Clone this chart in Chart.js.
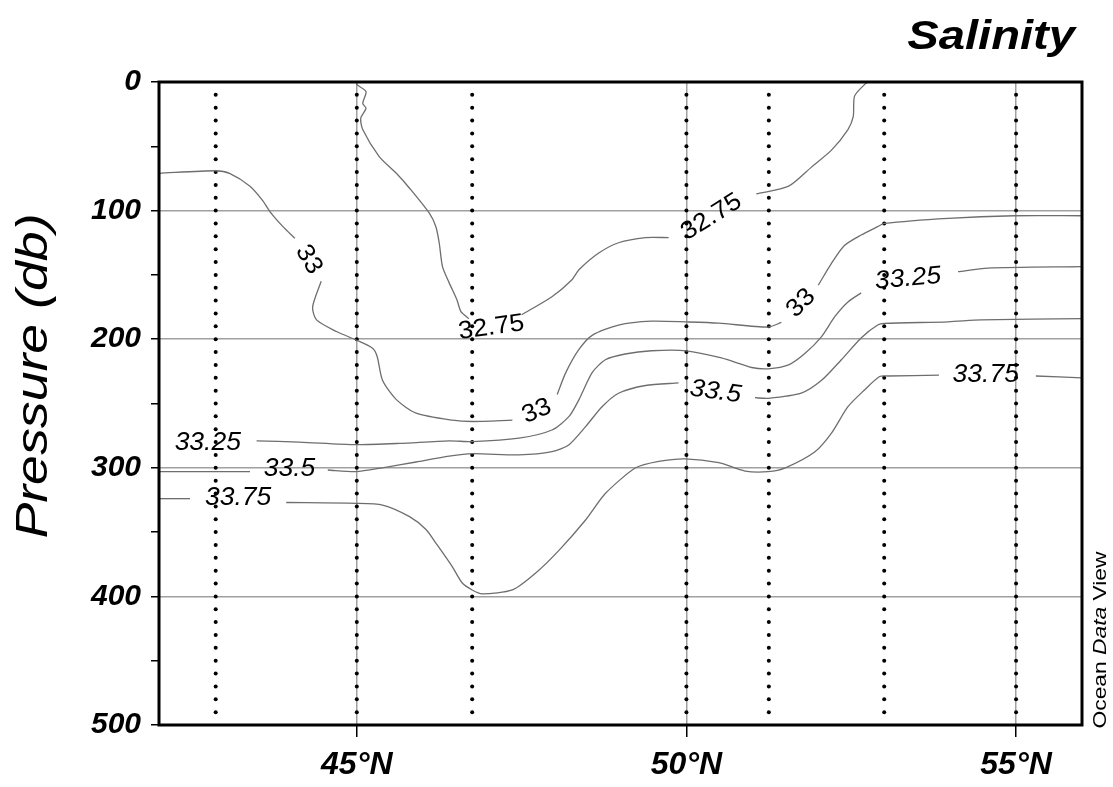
<!DOCTYPE html>
<html>
<head>
<meta charset="utf-8">
<title>Salinity section</title>
<script src="https://cdn.jsdelivr.net/npm/chart.js@4.4.1/dist/chart.umd.min.js"></script>
<style>
  html, body { margin: 0; padding: 0; background: #fff; }
  #chart { display: block; }
</style>
</head>
<body>
<canvas id="chart" width="1113" height="787"></canvas>
<script>
// axis ticks
const latTicks = [45, 50, 55];
const pressureTicks = [0, 50, 100, 150, 200, 250, 300, 350, 400, 450, 500];

// station latitudes and bottle depths (dotted columns)
const stations = [42.86, 45.0, 46.75, 50.0, 51.25, 53.0, 55.0];
const bottleDepths = [10, 20, 30, 40, 50, 60, 70, 80, 90, 100, 110, 120, 130, 140, 150, 160,
  170, 180, 190, 200, 210, 220, 230, 240, 250, 260, 270, 280, 290, 300, 310, 320, 330, 340,
  350, 360, 370, 380, 390, 400, 410, 420, 430, 440, 450, 460, 470, 480, 490];

// contour segments [lat, pressure], broken where the labels sit
const c3275a = [[45.0, 0], [45.0, 2], [45.14, 7.5], [45.09, 16.6], [45.14, 20.5], [45.06, 28], [45.09, 37],
  [45.34, 58], [45.6, 71], [45.8, 82.6], [46.1, 102], [46.2, 112.5], [46.25, 125], [46.3, 143.6],
  [46.4, 156], [46.52, 169.5], [46.58, 178.6], [46.7, 184]];
const c3275b = [[47.5, 181], [47.96, 167], [48.26, 154], [48.37, 146], [48.67, 133], [48.97, 125],
  [49.38, 121], [49.73, 121]];
const c3275c = [[51.06, 87], [51.55, 81], [51.9, 66], [52.2, 53], [52.45, 37], [52.53, 27], [52.55, 11],
  [52.7, 2], [52.75, 0]];

const c33a = [[42.0, 71], [42.86, 69], [43.07, 71], [43.38, 81], [43.57, 92], [43.7, 102], [43.88, 112.5],
  [44.06, 121.5]];
const c33b = [[44.46, 155], [44.33, 175], [44.39, 185], [44.69, 194], [44.99, 200.6], [45.24, 207],
  [45.31, 213.6], [45.39, 232], [45.6, 247], [45.9, 257.5], [46.45, 263], [46.75, 264], [47.36, 263]];
const c33c = [[48.04, 243], [48.17, 226], [48.37, 208], [48.57, 197], [48.97, 189], [49.47, 186],
  [50.02, 186.6], [50.49, 187.5], [51.24, 190.6], [51.44, 187]];
const c33d = [[52.0, 158], [52.2, 141], [52.4, 127], [52.65, 119], [52.9, 112.5], [53.0, 110],
  [53.97, 106], [54.97, 104], [56.0, 104]];

const c3325a = [[43.48, 279], [44.13, 280], [44.99, 282], [45.65, 281], [46.4, 279], [46.75, 279.7],
  [47.46, 277], [47.96, 270.6], [48.22, 260], [48.37, 247], [48.57, 226], [48.77, 216], [49.07, 211.5],
  [49.47, 209], [50.0, 209], [50.53, 214.6], [50.99, 222], [51.24, 223], [51.55, 220], [51.8, 211],
  [52.05, 198], [52.25, 182.5], [52.45, 171], [52.65, 164]];
const c3325b = [[54.12, 147.5], [54.57, 144.7], [56.0, 143.6]];

const c335a = [[42.0, 303], [42.87, 303], [43.38, 303]];
const c335b = [[44.56, 301.7], [44.99, 303], [45.39, 300], [45.9, 295.5], [46.4, 291], [46.75, 289],
  [47.46, 290], [47.96, 287.5], [48.22, 282], [48.47, 268], [48.72, 252.5], [48.97, 242], [49.38, 236],
  [49.88, 234]];
const c335c = [[51.04, 245.5], [51.24, 246], [51.74, 242], [52.05, 232], [52.35, 216], [52.65, 199],
  [52.9, 189], [53.0, 187.7], [53.97, 186.5], [54.47, 185], [56.0, 184]];

const c3375a = [[42.0, 324], [42.47, 324]];
const c3375b = [[43.93, 327], [44.99, 327.6], [45.39, 329], [45.8, 338], [46.05, 348], [46.2, 358.6],
  [46.45, 377], [46.6, 389.6], [46.75, 395], [46.9, 398], [47.36, 395], [47.71, 382], [48.07, 364],
  [48.47, 340.6], [48.77, 320], [49.23, 300], [49.58, 295], [49.98, 293], [50.49, 296], [50.89, 302.5],
  [51.24, 303], [51.5, 300], [51.95, 287.5], [52.2, 273], [52.45, 252.5], [52.7, 239.5], [52.93, 229],
  [53.06, 228.6], [53.83, 228]];
const c3375c = [[55.3, 228.6], [56.0, 230]];

// contour labels: text, lat, pressure, angle (deg)
const labelTexts = ['32.75', '32.75', '33', '33', '33', '33.25', '33.25', '33.5', '33.5', '33.75', '33.75'];
const labelLats = [47.04, 50.38, 44.27, 47.73, 51.74, 42.74, 53.36, 43.98, 50.44, 43.2, 54.54];
const labelPress = [191, 105, 138, 256, 172, 281, 153, 301, 241, 323.5, 228];
const labelAngles = [-8, -32, 60, -22, -45, 0, -5, 0, 8, 0, 0];

const FONT = '"Liberation Sans", Arial, sans-serif';

const segments = [c3275a, c3275b, c3275c, c33a, c33b, c33c, c33d, c3325a, c3325b,
  c335a, c335b, c335c, c3375a, c3375b, c3375c];

const datasets = segments.map(seg => ({
  data: seg.map(([x, y]) => ({ x, y })),
  showLine: true,
  borderColor: '#6e6e6e',
  borderWidth: 1.3,
  pointRadius: 0,
  tension: 0.25,
}));

const dots = [];
stations.forEach(lat => bottleDepths.forEach(p => dots.push({ x: lat, y: p })));
datasets.push({
  data: dots,
  showLine: false,
  pointRadius: 2,
  pointBackgroundColor: '#000',
  pointBorderWidth: 0,
});

// text drawn with a slight horizontal stretch, like the ODV fonts
function stretchedText(ctx, text, x, y, angle, stretch) {
  ctx.save();
  ctx.translate(x, y);
  ctx.rotate(angle);
  ctx.scale(stretch, 1);
  ctx.fillText(text, 0, 0);
  ctx.restore();
}

/**
 * Frame, contour labels, title and ODV tag
 */
const decorPlugin = {
  id: 'decor',
  afterDatasetsDraw(chart) {
    const { ctx, scales: { x, y } } = chart;
    ctx.save();
    ctx.fillStyle = '#000';
    ctx.textAlign = 'center';
    ctx.textBaseline = 'middle';
    labelTexts.forEach((t, i) => {
      const italic = t === '33.25' || t === '33.5' || t === '33.75';
      ctx.font = (italic ? 'italic ' : '') + '25px ' + FONT;
      stretchedText(ctx, t, x.getPixelForValue(labelLats[i]), y.getPixelForValue(labelPress[i]),
        labelAngles[i] * Math.PI / 180, 1.06);
    });
    ctx.restore();
  },
  afterDraw(chart) {
    const { ctx, chartArea: a } = chart;
    ctx.save();
    ctx.strokeStyle = '#000';
    ctx.lineWidth = 3;
    ctx.strokeRect(a.left, a.top, a.right - a.left, a.bottom - a.top);

    ctx.fillStyle = '#000';
    ctx.textBaseline = 'middle';

    ctx.textAlign = 'right';
    ctx.font = 'italic bold 41px ' + FONT;
    stretchedText(ctx, 'Salinity', 1075, 38, 0, 1.15);

    ctx.textAlign = 'center';
    ctx.font = 'italic 44px ' + FONT;
    stretchedText(ctx, 'Pressure (db)', 35, 376, -Math.PI / 2, 1.22);

    // "Ocean Data View" rotated along the right edge
    ctx.translate(1101, 640);
    ctx.rotate(-Math.PI / 2);
    ctx.scale(1.2, 1);
    const parts = [['Ocean ', ''], ['Data', 'italic '], [' View', '']];
    let total = 0;
    parts.forEach(([s, st]) => { ctx.font = st + '19px ' + FONT; total += ctx.measureText(s).width; });
    let cx = -total / 2;
    ctx.textAlign = 'left';
    parts.forEach(([s, st]) => {
      ctx.font = st + '19px ' + FONT;
      ctx.fillText(s, cx, 0);
      cx += ctx.measureText(s).width;
    });
    ctx.restore();
  },
};

new Chart(document.getElementById('chart').getContext('2d'), {
  type: 'scatter',
  data: { datasets },
  options: {
    responsive: false,
    animation: false,
    devicePixelRatio: 1,
    layout: { padding: { top: 82, right: 31, left: 0, bottom: 0 } },
    plugins: { legend: { display: false }, tooltip: { enabled: false } },
    scales: {
      x: {
        type: 'linear',
        min: 42,
        max: 56,
        afterBuildTicks: s => { s.ticks = latTicks.map(v => ({ value: v })); },
        afterFit: s => { s.height = 62; },
        grid: { color: '#a0a0a0', lineWidth: 1.5, tickColor: '#000', tickLength: 12, tickWidth: 1.5 },
        border: { display: false },
        ticks: {
          callback: v => v + '°N',
          color: '#000',
          padding: 9,
          maxRotation: 0,
          font: { family: FONT, size: 32, style: 'italic', weight: 'bold' },
        },
      },
      y: {
        type: 'linear',
        min: 0,
        max: 500,
        reverse: true,
        afterBuildTicks: s => { s.ticks = pressureTicks.map(v => ({ value: v })); },
        afterFit: s => { s.width = 159; },
        grid: {
          color: c => (c.tick && c.tick.value % 100 === 0 && c.tick.value > 0 && c.tick.value < 500)
            ? '#a0a0a0' : 'rgba(0,0,0,0)',
          lineWidth: 1.5,
          tickColor: '#000',
          tickLength: 8,
          tickWidth: 1.5,
        },
        border: { display: false },
        ticks: {
          callback: v => (v % 100 === 0 ? v : ''),
          color: '#000',
          padding: 10,
          font: { family: FONT, size: 30, style: 'italic', weight: 'bold' },
        },
      },
    },
  },
  plugins: [decorPlugin],
});
</script>
</body>
</html>
